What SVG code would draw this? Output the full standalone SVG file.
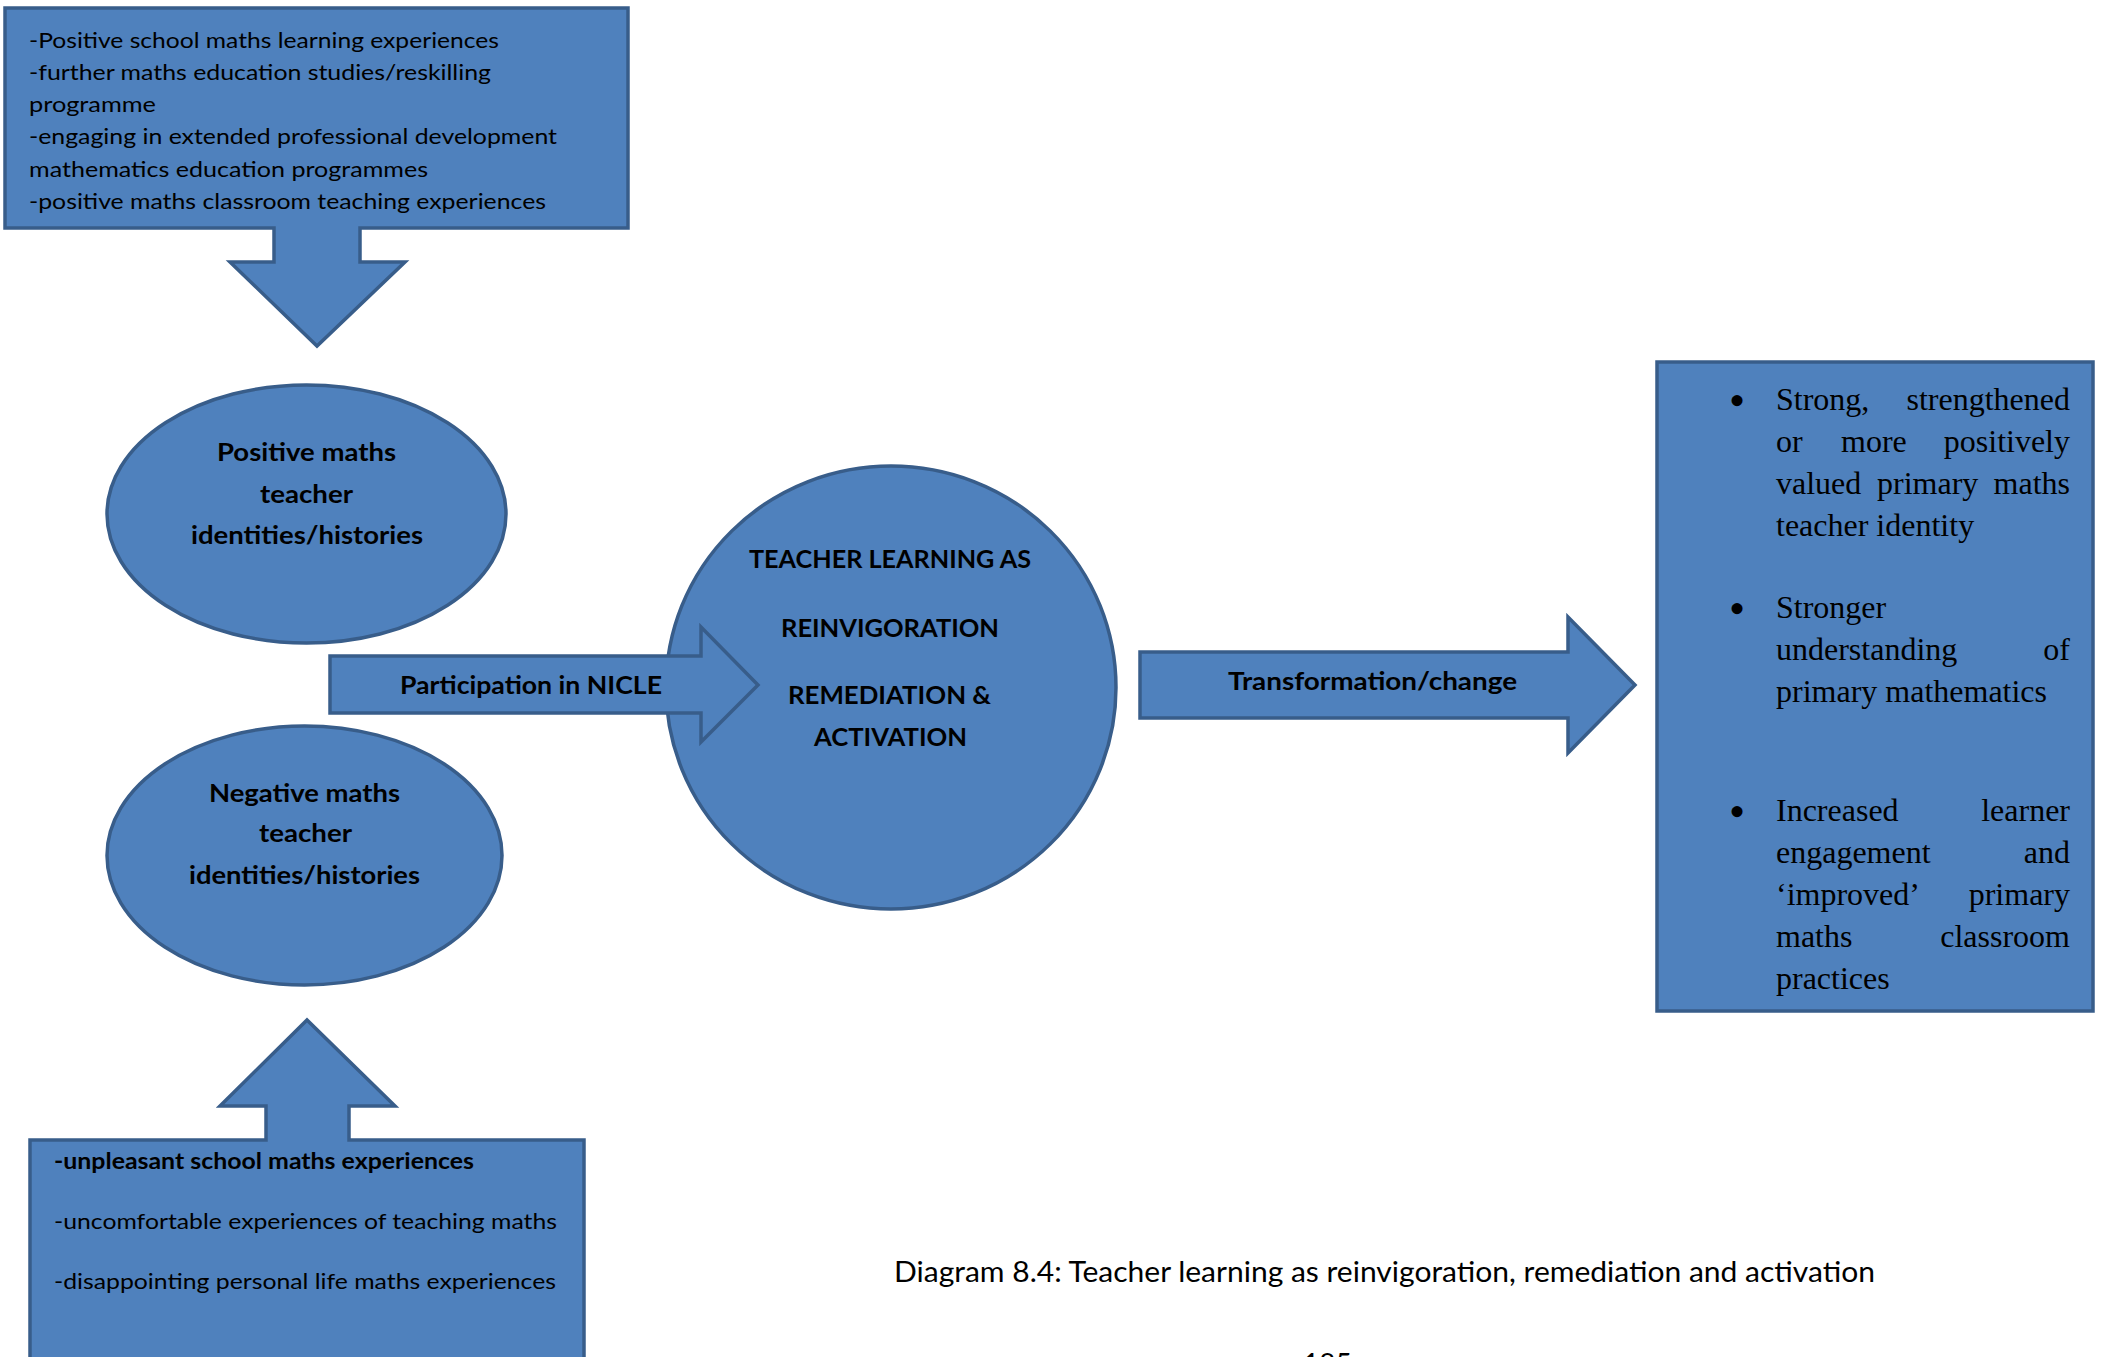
<svg xmlns="http://www.w3.org/2000/svg" width="2105" height="1357" viewBox="0 0 2105 1357">
<style>
.shape{fill:#4f81bd;stroke:#385d8a;stroke-width:3.5;stroke-linejoin:miter}
.t{font-family:Lato,"Open Sans","Liberation Sans",sans-serif;fill:#000;font-size:22px}
.b{font-family:Lato,"Open Sans","Liberation Sans",sans-serif;fill:#000;font-weight:bold;font-size:24px}
.c{text-anchor:middle}
.s{font-family:"Liberation Serif","Times New Roman",serif;fill:#000;font-size:32px}
.bul{font-family:"Liberation Serif","Times New Roman",serif;fill:#000;font-size:46px;text-anchor:middle}
.e{text-anchor:end}
.cap{font-family:Lato,"Open Sans","Liberation Sans",sans-serif;fill:#000;font-size:28px}
</style>
<rect width="2105" height="1357" fill="#fff"/>

<g id="top-callout">
<path class="shape" d="M5,8 H628 V228 H360 V262 H405 L317,346 L230,262 H274 V228 H5 Z"/>
<text class="t" x="29" y="48" textLength="470" lengthAdjust="spacingAndGlyphs">-Positive school maths learning experiences</text>
<text class="t" x="29" y="80" textLength="462" lengthAdjust="spacingAndGlyphs">-further maths education studies/reskilling</text>
<text class="t" x="29" y="112" textLength="127" lengthAdjust="spacingAndGlyphs">programme</text>
<text class="t" x="29" y="144" textLength="528" lengthAdjust="spacingAndGlyphs">-engaging in extended professional development</text>
<text class="t" x="29" y="177" textLength="399" lengthAdjust="spacingAndGlyphs">mathematics education programmes</text>
<text class="t" x="29" y="209" textLength="517" lengthAdjust="spacingAndGlyphs">-positive maths classroom teaching experiences</text>
</g>

<g id="positive-identities">
<ellipse class="shape" cx="306.5" cy="514" rx="199.5" ry="129"/>
<text class="b" x="217" y="461" textLength="179" lengthAdjust="spacingAndGlyphs">Positive maths</text>
<text class="b" x="260" y="503" textLength="93" lengthAdjust="spacingAndGlyphs">teacher</text>
<text class="b" x="191" y="544" textLength="232" lengthAdjust="spacingAndGlyphs">identities/histories</text>
</g>

<g id="negative-identities">
<ellipse class="shape" cx="304.5" cy="855.5" rx="197.5" ry="129.5"/>
<text class="b" x="209" y="802" textLength="191" lengthAdjust="spacingAndGlyphs">Negative maths</text>
<text class="b" x="259" y="842" textLength="93" lengthAdjust="spacingAndGlyphs">teacher</text>
<text class="b" x="189" y="884" textLength="231" lengthAdjust="spacingAndGlyphs">identities/histories</text>
</g>

<g id="bottom-callout">
<path class="shape" d="M30,1140 H266 V1106 H220 L307,1020 L395,1106 H349 V1140 H584 V1375 H30 Z"/>
<text class="t" x="54" y="1169" font-weight="bold" textLength="420" lengthAdjust="spacingAndGlyphs">-unpleasant school maths experiences</text>
<text class="t" x="54" y="1229" textLength="503" lengthAdjust="spacingAndGlyphs">-uncomfortable experiences of teaching maths</text>
<text class="t" x="54" y="1289" textLength="502" lengthAdjust="spacingAndGlyphs">-disappointing personal life maths experiences</text>
</g>

<g id="teacher-learning">
<ellipse class="shape" cx="891" cy="687.5" rx="225" ry="221.5"/>
<text class="b" x="749" y="568" textLength="282" lengthAdjust="spacingAndGlyphs">TEACHER LEARNING AS</text>
<text class="b" x="781" y="637" textLength="218" lengthAdjust="spacingAndGlyphs">REINVIGORATION</text>
<text class="b" x="788" y="704" textLength="203" lengthAdjust="spacingAndGlyphs">REMEDIATION &amp;</text>
<text class="b" x="814" y="746" textLength="153" lengthAdjust="spacingAndGlyphs">ACTIVATION</text>
</g>

<g id="connectors">
<g id="participation-arrow">
<path class="shape" d="M330,656 H701 V627 L758,685 L701,742 V713 H330 Z"/>
<text class="b" x="400" y="694" textLength="262" lengthAdjust="spacingAndGlyphs">Participation in NICLE</text>
</g>
<g id="transformation-arrow">
<path class="shape" d="M1140,652 H1568 V617 L1635,685 L1568,753 V718 H1140 Z"/>
<text class="b" x="1228" y="690" textLength="289" lengthAdjust="spacingAndGlyphs">Transformation/change</text>
</g>
</g>

<g id="outcomes">
<rect class="shape" x="1657" y="362" width="436" height="649"/>
<text class="bul" x="1737" y="416">•</text>
<text class="s" x="1776" y="410">Strong,</text>
<text class="s e" x="2070" y="410">strengthened</text>
<text class="s" x="1776" y="452">or</text>
<text class="s" x="1841" y="452">more</text>
<text class="s e" x="2070" y="452">positively</text>
<text class="s" x="1776" y="494">valued</text>
<text class="s" x="1877" y="494">primary</text>
<text class="s e" x="2070" y="494">maths</text>
<text class="s" x="1776" y="536">teacher identity</text>

<text class="bul" x="1737" y="624">•</text>
<text class="s" x="1776" y="618">Stronger</text>
<text class="s" x="1776" y="660">understanding</text>
<text class="s e" x="2070" y="660">of</text>
<text class="s" x="1776" y="702">primary mathematics</text>

<text class="bul" x="1737" y="827">•</text>
<text class="s" x="1776" y="821">Increased</text>
<text class="s e" x="2070" y="821">learner</text>
<text class="s" x="1776" y="863">engagement</text>
<text class="s e" x="2070" y="863">and</text>
<text class="s" x="1776" y="905">‘improved’</text>
<text class="s e" x="2070" y="905">primary</text>
<text class="s" x="1776" y="947">maths</text>
<text class="s e" x="2070" y="947">classroom</text>
<text class="s" x="1776" y="989">practices</text>
</g>

<g id="caption">
<text class="cap" x="894" y="1282" textLength="981" lengthAdjust="spacingAndGlyphs">Diagram 8.4: Teacher learning as reinvigoration, remediation and activation</text>
<text class="cap" x="1303" y="1374">185</text>
</g>
</svg>
